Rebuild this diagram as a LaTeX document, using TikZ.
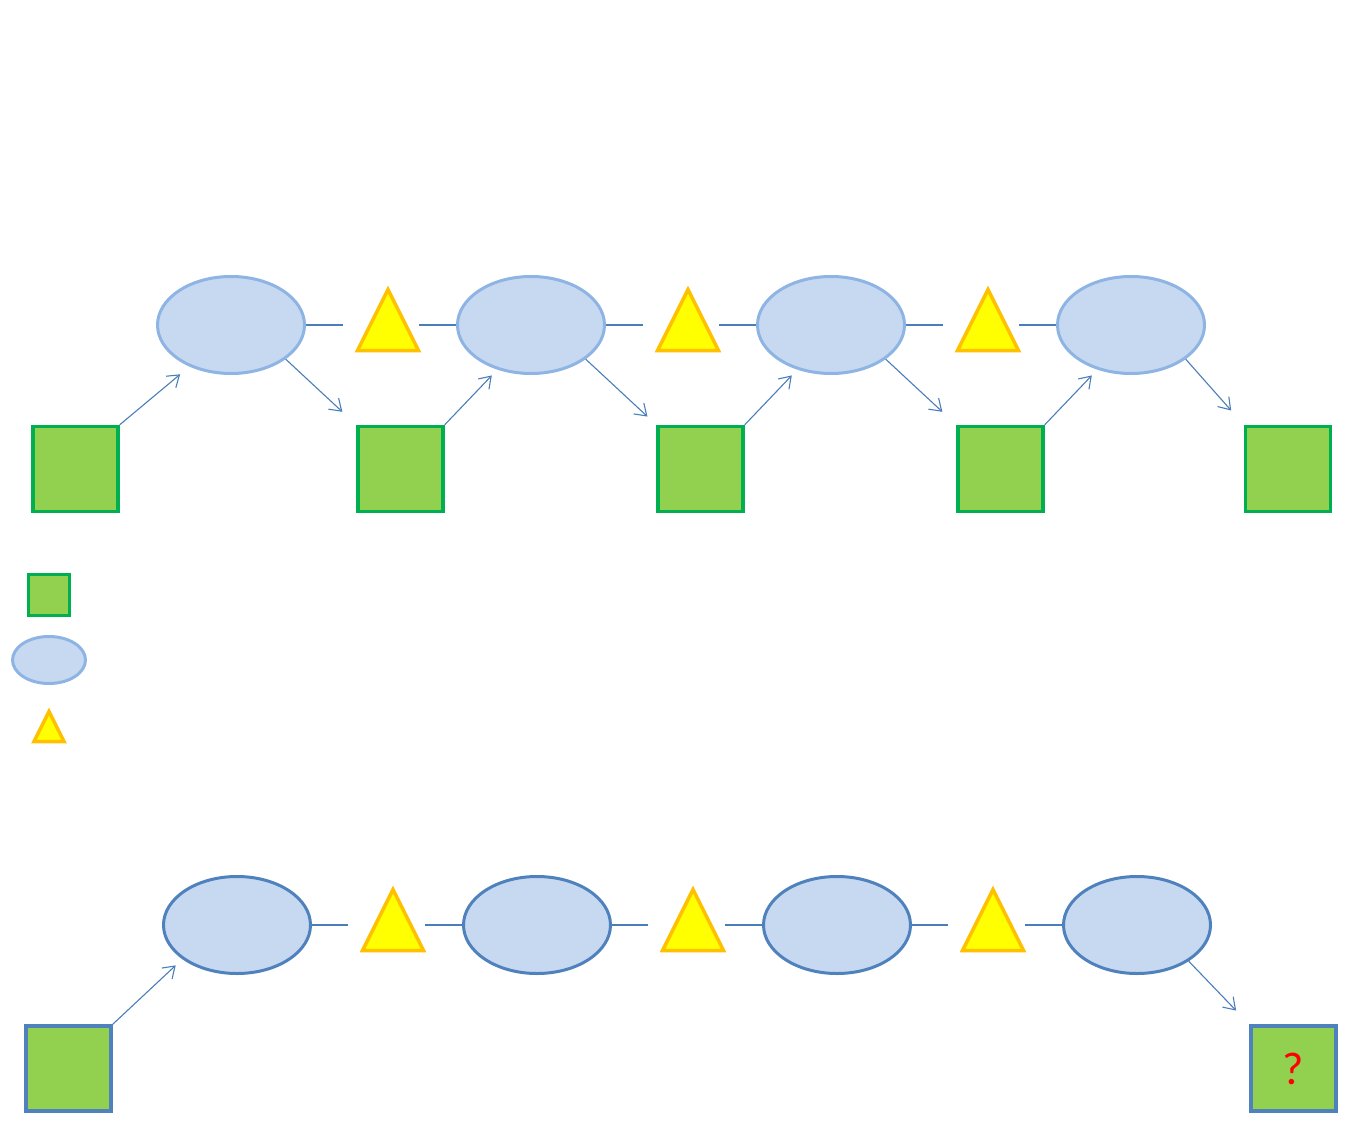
\documentclass[tikz,border=0pt]{standalone}
\usepackage{fontspec}
\setmainfont{Carlito}
\usetikzlibrary{shapes.geometric, arrows.meta}

\definecolor{statefill}{HTML}{C6D9F1}
\definecolor{stateline}{HTML}{8EB4E3}
\definecolor{darkline}{HTML}{4F81BD}
\definecolor{obsfill}{HTML}{92D050}
\definecolor{obsline}{HTML}{00B050}
\definecolor{tokfill}{HTML}{FFFF00}
\definecolor{tokline}{HTML}{FFC000}
\definecolor{linkcol}{HTML}{4A7EBB}

\begin{document}
\begin{tikzpicture}[
    x=1pt, y=-1pt,
    state/.style={ellipse, draw=stateline, fill=statefill, line width=3pt, minimum width=147pt, minimum height=97pt, inner sep=0pt},
    obs/.style={rectangle, draw=obsline, fill=obsfill, line width=3.5pt, minimum size=85pt, inner sep=0pt},
    token/.style={isosceles triangle, isosceles triangle stretches, shape border rotate=90, draw=tokline, fill=tokfill, line width=3.5pt, minimum width=61pt, minimum height=61pt, inner sep=0pt, anchor=apex},
    link/.style={draw=linkcol, line width=1.5pt},
    arrow/.style={-{Straight Barb[length=11pt,width=15pt]}, draw=linkcol, line width=1.1pt}
]
\useasboundingbox (0,0) rectangle (1352,1129);

% Top chain
\node[state] (e1) at (231,325) {};
\node[state] (e2) at (531,325) {};
\node[state] (e3) at (831,325) {};
\node[state] (e4) at (1131,325) {};

\node[token] (t1) at (388,285) {};
\node[token] (t2) at (688,285) {};
\node[token] (t3) at (988,285) {};

\node[obs] (s1) at (75.5,469) {};
\node[obs] (s2) at (400.5,469) {};
\node[obs] (s3) at (700.5,469) {};
\node[obs] (s4) at (1000.5,469) {};
\node[obs] (s5) at (1288,469) {};

\draw[link, shorten >=45pt] (e1.east) -- (e1.east -| t1.apex);
\draw[link, shorten <=31pt] (e2.west -| t1.apex) -- (e2.west);
\draw[link, shorten >=45pt] (e2.east) -- (e2.east -| t2.apex);
\draw[link, shorten <=31pt] (e3.west -| t2.apex) -- (e3.west);
\draw[link, shorten >=45pt] (e3.east) -- (e3.east -| t3.apex);
\draw[link, shorten <=31pt] (e4.west -| t3.apex) -- (e4.west);

\draw[arrow, shorten >=12pt] (s1.north east) -- (e1.225);
\draw[arrow, shorten >=19pt] (e1.-32) -- (s2.north west);
\draw[arrow, shorten >=8pt] (s2.north east) -- (e2.233);
\draw[arrow, shorten >=12pt] (e2.-32) -- (s3.north west);
\draw[arrow, shorten >=8pt] (s3.north east) -- (e3.233);
\draw[arrow, shorten >=19pt] (e3.-32) -- (s4.north west);
\draw[arrow, shorten >=8pt] (s4.north east) -- (e4.233);
\draw[arrow, shorten >=19pt] (e4.-32) -- (s5.north west);

% Legend
\node[obs, minimum size=41pt] (lobs) at (49,595) {};
\node[state, minimum width=73pt, minimum height=47pt] (lstate) at (49,660) {};
\node[token, minimum width=30pt, minimum height=30pt] (ltok) at (49,707) {};

% Bottom chain
\node[state, draw=darkline] (b1) at (237,925) {};
\node[state, draw=darkline] (b2) at (537,925) {};
\node[state, draw=darkline] (b3) at (837,925) {};
\node[state, draw=darkline] (b4) at (1137,925) {};

\node[token] (u1) at (393,885) {};
\node[token] (u2) at (693,885) {};
\node[token] (u3) at (993,885) {};

\node[obs, draw=darkline] (o1) at (68.5,1068.5) {};
\node[obs, draw=darkline, text=red, font=\fontsize{46}{48}\selectfont] (o2) at (1293.5,1068.5) {?};

\draw[link, shorten >=45pt] (b1.east) -- (b1.east -| u1.apex);
\draw[link, shorten <=32pt] (b2.west -| u1.apex) -- (b2.west);
\draw[link, shorten >=45pt] (b2.east) -- (b2.east -| u2.apex);
\draw[link, shorten <=32pt] (b3.west -| u2.apex) -- (b3.west);
\draw[link, shorten >=45pt] (b3.east) -- (b3.east -| u3.apex);
\draw[link, shorten <=32pt] (b4.west -| u3.apex) -- (b4.west);

\draw[arrow, shorten >=9pt] (o1.north east) -- (b1.212);
\draw[arrow, shorten >=19pt] (b4.-35) -- (o2.north west);

\end{tikzpicture}
\end{document}
